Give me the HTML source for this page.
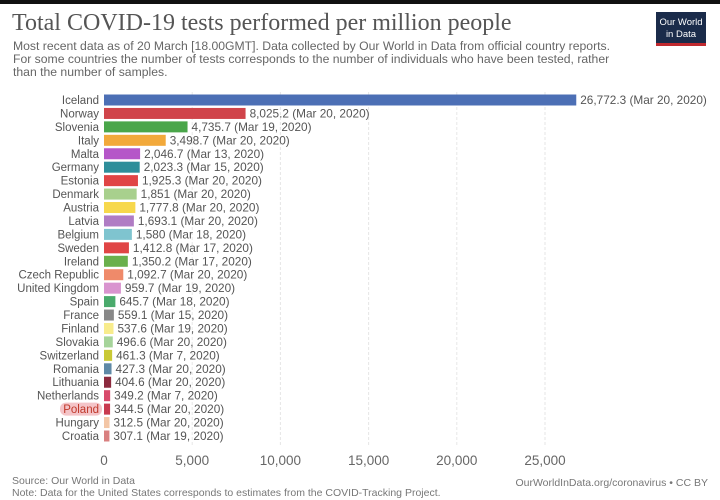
<!DOCTYPE html>
<html><head><meta charset="utf-8"><style>
body{margin:0;width:720px;height:500px;background:#fff;overflow:hidden;font-family:"Liberation Sans",sans-serif}
svg{display:block}
</style></head><body>
<svg id="c" width="720" height="500">
<rect x="0" y="0" width="720" height="4" fill="#111"/>
<text x="12" y="30" font-family="Liberation Serif,serif" font-size="24" fill="#555">Total COVID-19 tests performed per million people</text>
<g font-size="12.2" fill="#666">
<text x="13" y="50">Most recent data as of 20 March [18.00GMT]. Data collected by Our World in Data from official country reports.</text>
<text x="13" y="63">For some countries the number of tests corresponds to the number of individuals who have been tested, rather</text>
<text x="13" y="76">than the number of samples.</text>
</g>
<g>
<rect x="656" y="12" width="50" height="33" fill="#1a2b4a"/>
<rect x="656" y="43" width="50" height="3" fill="#c0292f"/>
<text x="681" y="25" font-size="9.5" fill="#fff" text-anchor="middle">Our World</text>
<text x="681" y="37" font-size="9.5" fill="#fff" text-anchor="middle">in Data</text>
</g>
<g id="grid"></g><g id="bars"></g><g id="ticks"></g>
<text x="12" y="484" font-size="10.5" fill="#777">Source: Our World in Data</text>
<text x="12" y="496" font-size="10.5" fill="#777">Note: Data for the United States corresponds to estimates from the COVID-Tracking Project.</text>
<text x="708" y="486" font-size="10.5" fill="#777" text-anchor="end">OurWorldInData.org/coronavirus • CC BY</text>
</svg>
<script>
const countries=["Iceland","Norway","Slovenia","Italy","Malta","Germany","Estonia","Denmark","Austria","Latvia","Belgium","Sweden","Ireland","Czech Republic","United Kingdom","Spain","France","Finland","Slovakia","Switzerland","Romania","Lithuania","Netherlands","Poland","Hungary","Croatia"];
const values=[26772.3,8025.2,4735.7,3498.7,2046.7,2023.3,1925.3,1851,1777.8,1693.1,1580,1412.8,1350.2,1092.7,959.7,645.7,559.1,537.6,496.6,461.3,427.3,404.6,349.2,344.5,312.5,307.1];
const valueLabels=["26,772.3","8,025.2","4,735.7","3,498.7","2,046.7","2,023.3","1,925.3","1,851","1,777.8","1,693.1","1,580","1,412.8","1,350.2","1,092.7","959.7","645.7","559.1","537.6","496.6","461.3","427.3","404.6","349.2","344.5","312.5","307.1"];
const dates=["Mar 20, 2020","Mar 20, 2020","Mar 19, 2020","Mar 20, 2020","Mar 13, 2020","Mar 15, 2020","Mar 20, 2020","Mar 20, 2020","Mar 20, 2020","Mar 20, 2020","Mar 18, 2020","Mar 17, 2020","Mar 17, 2020","Mar 20, 2020","Mar 19, 2020","Mar 18, 2020","Mar 15, 2020","Mar 19, 2020","Mar 20, 2020","Mar 7, 2020","Mar 20, 2020","Mar 20, 2020","Mar 7, 2020","Mar 20, 2020","Mar 20, 2020","Mar 19, 2020"];
const colors=["#4c6fb5","#d0444a","#4aa64a","#f2a93b","#b556c8","#2e8e9a","#e04545","#a8d08d","#f7d84c","#b07cc4","#7fc4cf","#e04545","#6ab04c","#ef8a6a","#d994cf","#4aaa6c","#888888","#f8ec8c","#a6d49a","#c9c935","#5f89a6","#8c2a3e","#d84a6b","#c83a4f","#f3c6a6","#d98080"];
const ticks=[0,5000,10000,15000,20000,25000];
const tickLabels=["0","5,000","10,000","15,000","20,000","25,000"];
const NS="http://www.w3.org/2000/svg";
const x0=104,kx=0.01764,topY=94.5,step=13.44,bh=11;
const xs=v=>x0+v*kx, ys=i=>topY+i*step;
function mk(t,a,p){const e=document.createElementNS(NS,t);for(const n in a)e.setAttribute(n,a[n]);p.appendChild(e);return e;}
const g=document.getElementById('grid'),b=document.getElementById('bars'),tk=document.getElementById('ticks');
ticks.forEach((t,i)=>{
 if(i>0){const l=mk('line',{x1:xs(t),x2:xs(t),y1:92,y2:446,stroke:'#e6e6e6','stroke-dasharray':'3,2'},g);
 
 }
 const tx=mk('text',{x:xs(t),y:465,'font-size':13.5,fill:'#666','text-anchor':'middle'},tk);tx.textContent=tickLabels[i];
 
 
});
countries.forEach((c,i)=>{
 const y=ys(i);
 if(c==="Poland"){const h=mk('rect',{x:60,y:y-1,width:42,height:bh+2,rx:6,fill:'#f4c4c8'},b);
 
 }
 const lb=mk('text',{x:99,y:y+9.5,'font-size':11.5,fill:c==="Poland"?'#c0392b':'#555','text-anchor':'end'},b);lb.textContent=c;
 
 
 const r=mk('rect',{x:x0,y:y,width:Math.max(xs(values[i])-x0,1),height:bh,fill:colors[i]},b);
 
 
 const vl=mk('text',{x:xs(values[i])+4,y:y+9.5,'font-size':11.8,fill:'#555'},b);vl.textContent=valueLabels[i]+" ("+dates[i]+")";
 
 
});
</script>
</body></html>
